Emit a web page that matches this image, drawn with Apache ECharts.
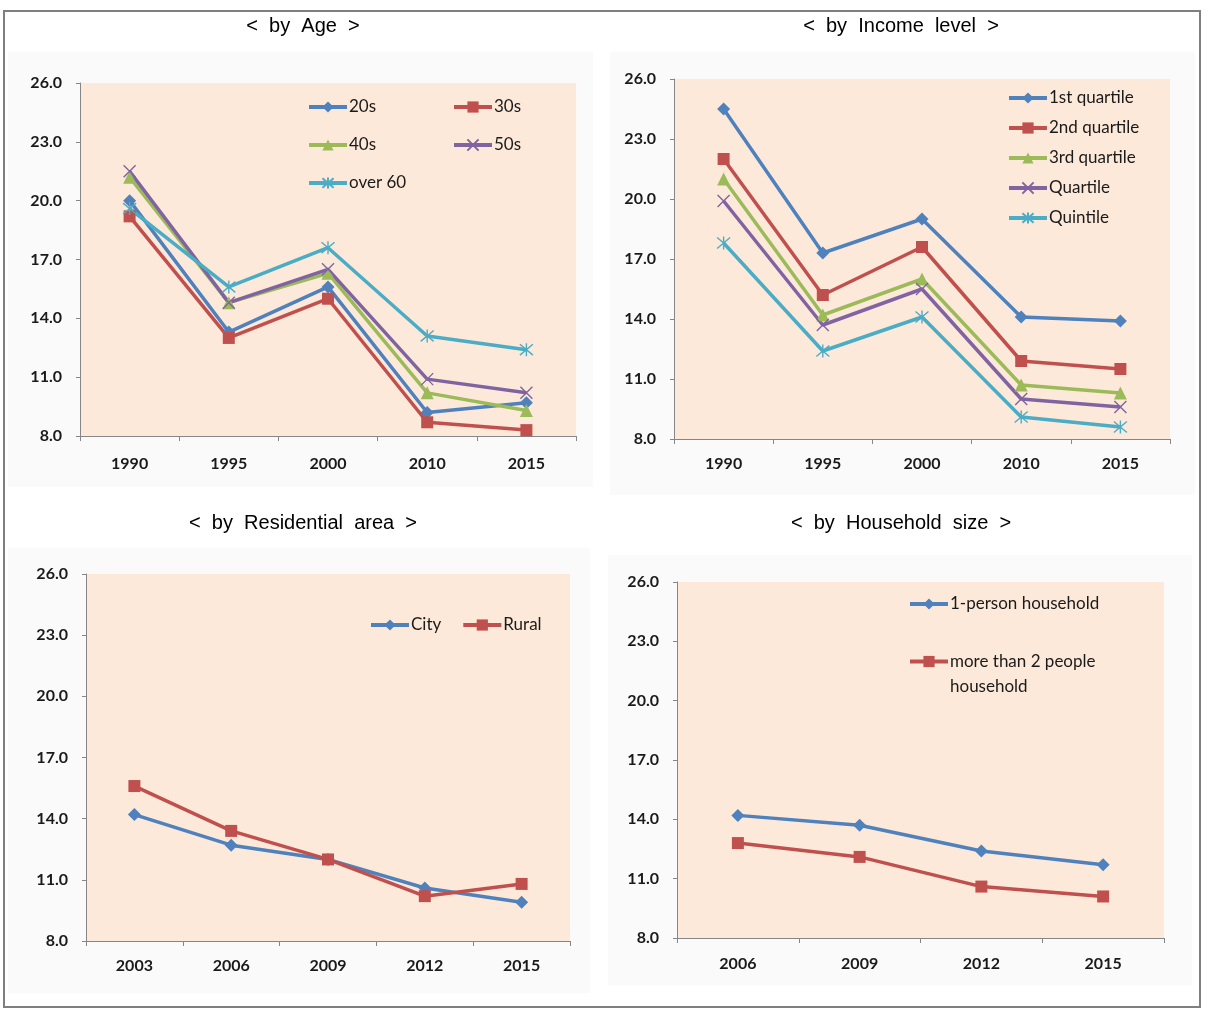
<!DOCTYPE html>
<html><head><meta charset="utf-8">
<script src="https://cdn.jsdelivr.net/npm/echarts@6/dist/echarts.min.js"></script>
<style>html,body{margin:0;padding:0;background:#fff}#c{width:1220px;height:1009px}</style>
</head><body><div id="c"></div><script>
// ---- data ----
const ageYears = ['1990', '1995', '2000', '2010', '2015'];
const age20s = [20.0, 13.3, 15.6, 9.2, 9.7];
const age30s = [19.2, 13.0, 15.0, 8.7, 8.3];
const age40s = [21.2, 14.8, 16.3, 10.2, 9.3];
const age50s = [21.5, 14.8, 16.5, 10.9, 10.2];
const ageOver60 = [19.6, 15.6, 17.6, 13.1, 12.4];

const incomeYears = ['1990', '1995', '2000', '2010', '2015'];
const income1st = [24.5, 17.3, 19.0, 14.1, 13.9];
const income2nd = [22.0, 15.2, 17.6, 11.9, 11.5];
const income3rd = [21.0, 14.2, 16.0, 10.7, 10.3];
const incomeQuartile = [19.9, 13.7, 15.5, 10.0, 9.6];
const incomeQuintile = [17.8, 12.4, 14.1, 9.1, 8.6];

const areaYears = ['2003', '2006', '2009', '2012', '2015'];
const areaCity = [14.2, 12.7, 12.0, 10.6, 9.9];
const areaRural = [15.6, 13.4, 12.0, 10.2, 10.8];

const hhYears = ['2006', '2009', '2012', '2015'];
const hhOne = [14.2, 13.7, 12.4, 11.7];
const hhMulti = [12.8, 12.1, 10.6, 10.1];

const yMin = 8, yMax = 26, yStep = 3;
const titles = ['<  by  Age  >', '<  by  Income  level  >', '<  by  Residential  area  >', '<  by  Household  size  >'];

// ---- styling ----
const C = { blue: '#4F81BD', red: '#C0504D', green: '#9BBB59', purple: '#8064A2', cyan: '#4BACC6' };
const SYM = {
  diamond: 'diamond',
  square: 'rect',
  triangle: 'triangle',
  x: 'path://M0,0L10,10M10,0L0,10',
  star: 'path://M0,0L10,10M10,0L0,10M5,-1L5,11'
};
const FONT = 'Lato';
const AX = '#868686';
const TXT = '#1a1a1a';

const grids = [
  { left: 80, top: 83, width: 496, height: 353 },
  { left: 674, top: 79, width: 496, height: 360 },
  { left: 86, top: 574, width: 484, height: 367 },
  { left: 677, top: 582, width: 487, height: 356 }
].map(g => Object.assign({ show: true, backgroundColor: '#FDE9D9', borderWidth: 0, containLabel: false }, g));

const cats = [ageYears, incomeYears, areaYears, hhYears];
const xMargins = [20, 17, 17, 18];
const xAxis = cats.map((c, i) => ({
  type: 'category', gridIndex: i, data: c, boundaryGap: true,
  axisLine: { show: true, lineStyle: { color: AX, width: 1 } },
  axisTick: { show: true, length: 5, lineStyle: { color: AX } },
  axisLabel: { fontFamily: FONT, fontSize: 16, fontWeight: 'bold', color: TXT, margin: xMargins[i] },
  splitLine: { show: false }
}));
const yAxis = cats.map((c, i) => ({
  type: 'value', gridIndex: i, min: yMin, max: yMax, interval: yStep,
  axisLine: { show: true, lineStyle: { color: AX, width: 1 } },
  axisTick: { show: true, length: 4, lineStyle: { color: AX } },
  axisLabel: { fontFamily: FONT, fontSize: 16, fontWeight: 'bold', color: TXT, margin: 18, formatter: v => v.toFixed(1) },
  splitLine: { show: false }
}));

function mk(name, data, idx, color, symbol, size) {
  const isPath = symbol.indexOf('path://') === 0;
  return {
    type: 'line', name, data, xAxisIndex: idx, yAxisIndex: idx,
    symbol, symbolSize: size,
    lineStyle: { color, width: 3.5 },
    itemStyle: { color: isPath ? 'transparent' : color, borderColor: color, borderWidth: isPath ? 1.4 : 0 },
    emphasis: { disabled: true },
    z: 3
  };
}

const series = [
  mk('20s', age20s, 0, C.blue, SYM.diamond, 13),
  mk('30s', age30s, 0, C.red, SYM.square, 12),
  mk('40s', age40s, 0, C.green, SYM.triangle, 13),
  mk('50s', age50s, 0, C.purple, SYM.x, 12),
  mk('over 60', ageOver60, 0, C.cyan, SYM.star, 13),
  mk('1st quartile', income1st, 1, C.blue, SYM.diamond, 13),
  mk('2nd quartile', income2nd, 1, C.red, SYM.square, 12),
  mk('3rd quartile', income3rd, 1, C.green, SYM.triangle, 13),
  mk('Quartile', incomeQuartile, 1, C.purple, SYM.x, 12),
  mk('Quintile', incomeQuintile, 1, C.cyan, SYM.star, 13),
  mk('City', areaCity, 2, C.blue, SYM.diamond, 13),
  mk('Rural', areaRural, 2, C.red, SYM.square, 12),
  mk('1-person household', hhOne, 3, C.blue, SYM.diamond, 13),
  mk('more than 2 people household', hhMulti, 3, C.red, SYM.square, 12)
];

const legendText = { fontFamily: FONT, fontSize: 17, color: TXT, lineHeight: 18, padding: [0, 0, 0, -3] };
const legendBase = {
  padding: 0, itemWidth: 38, itemHeight: 14, orient: 'vertical', selectedMode: false,
  lineStyle: { width: 4 },
  textStyle: legendText
};
const legend = [
  Object.assign({}, legendBase, { data: ['20s', '40s', 'over 60'], left: 307, top: 98, itemGap: 20 }),
  Object.assign({}, legendBase, { data: ['30s', '50s'], left: 452, top: 98, itemGap: 20 }),
  Object.assign({}, legendBase, { data: ['1st quartile', '2nd quartile', '3rd quartile', 'Quartile', 'Quintile'], left: 1007, top: 89, itemGap: 12 }),
  Object.assign({}, legendBase, { data: ['City', 'Rural'], orient: 'horizontal', left: 369, top: 616, itemGap: 20 }),
  Object.assign({}, legendBase, { data: ['1-person household'], left: 908, top: 595 }),
  Object.assign({}, legendBase, {
    data: ['more than 2 people household'], left: 908, top: 624,
    formatter: () => '\nmore than 2 people\nhousehold',
    textStyle: Object.assign({}, legendText, { lineHeight: 25 })
  })
];

const titleCenters = [[303, 26], [901, 26], [303, 523], [901, 523]];
const graphic = [
  { type: 'rect', z: -10, shape: { x: 8, y: 52, width: 585, height: 435 }, style: { fill: '#fafafa' } },
  { type: 'rect', z: -10, shape: { x: 610, y: 52, width: 585, height: 443 }, style: { fill: '#fafafa' } },
  { type: 'rect', z: -10, shape: { x: 8, y: 548, width: 582, height: 445 }, style: { fill: '#fafafa' } },
  { type: 'rect', z: -10, shape: { x: 608, y: 555, width: 584, height: 430 }, style: { fill: '#fafafa' } },
  { type: 'rect', z: 50, shape: { x: 4, y: 11, width: 1196, height: 996 }, style: { fill: 'none', stroke: '#7f7f7f', lineWidth: 2 } }
].concat(titles.map((t, i) => ({
  type: 'text', z: 50, x: titleCenters[i][0], y: titleCenters[i][1],
  style: { text: t, fontFamily: 'Liberation Sans', fontSize: 20, fill: '#000', align: 'center', verticalAlign: 'middle' }
})));

const chart = echarts.init(document.getElementById('c'), null, { renderer: 'canvas' });
chart.setOption({
  animation: false,
  backgroundColor: '#ffffff',
  grid: grids, xAxis, yAxis, series, legend, graphic
});
</script></body></html>
